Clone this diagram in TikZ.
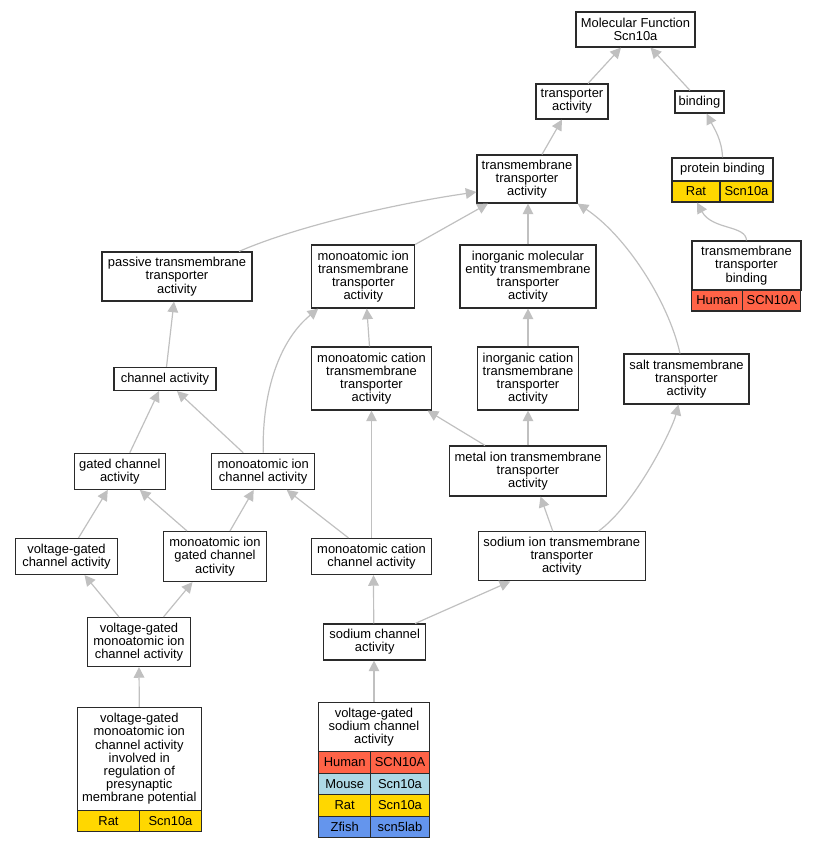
\documentclass[tikz,border=0pt]{standalone}
\usepackage{fontspec}
\setmainfont{Liberation Sans}
\usetikzlibrary{arrows.meta,calc}

\definecolor{human}{HTML}{FF6347}
\definecolor{mouse}{HTML}{ADD8E6}
\definecolor{rat}{HTML}{FFD700}
\definecolor{zfish}{HTML}{6495ED}
\definecolor{linkgray}{HTML}{C0C0C0}
\definecolor{boxline}{HTML}{2A2A2A}

\begin{document}
\begin{tikzpicture}[x=0.75pt,y=-0.75pt,
  term/.style 2 args={draw=boxline,line width=0.85pt,fill=white,align=center,inner sep=0pt,
    minimum width={#1*0.75pt},minimum height={#2*0.75pt},
    font=\fontsize{9.7}{9.9}\selectfont},
  cell/.style 2 args={term={#1}{#2}},
  link/.style={draw=linkgray,line width=0.9pt,-{Triangle[length=8pt,width=8pt]}}]
\useasboundingbox (0,0) rectangle (817,848);
%\draw[help lines,step=50] (0,0) grid (817,848);

\node[term={119}{35}] (mf) at (635.5,29.5) {Molecular Function\\Scn10a};
\node[term={72}{35}] (ta) at (572,101.5) {transporter\\activity};
\node[term={49}{22}] (bind) at (699.5,102) {binding};
\node[term={100}{48}] (tmta) at (527,179) {transmembrane\\transporter\\activity};

\node[term={101}{23}] (pb) at (722.5,169.5) {protein binding};
\node[cell={48}{21}, fill=rat] (pb-sp) at (696,191.5) {Rat};
\node[cell={53}{21}, fill=rat] (pb-g) at (746.5,191.5) {Scn10a};

\node[term={109}{49}] (tmb) at (746.5,265.5) {transmembrane\\transporter\\binding};
\node[cell={51}{21}, fill=human] (tmb-sp) at (717.2,300.5) {Human};
\node[cell={58}{21}, fill=human] (tmb-g) at (771.8,300.5) {SCN10A};

\node[term={150}{49}] (ptta) at (177,276.5) {passive transmembrane\\transporter\\activity};
\node[term={103}{63}] (mitm) at (363.3,276.5) {monoatomic ion\\transmembrane\\transporter\\activity};
\node[term={136}{63}] (imetm) at (528,276.5) {inorganic molecular\\entity transmembrane\\transporter\\activity};

\node[term={102}{23}] (ca) at (165,379) {channel activity};
\node[term={120}{63}] (mctm) at (371.5,378.5) {monoatomic cation\\transmembrane\\transporter\\activity};
\node[term={101}{63}] (ictm) at (528,378.5) {inorganic cation\\transmembrane\\transporter\\activity};
\node[term={125}{50}] (salt) at (686.5,379) {salt transmembrane\\transporter\\activity};

\node[term={91}{36}] (gca) at (119.8,471.3) {gated channel\\activity};
\node[term={103}{36}] (mic) at (263.2,471.3) {monoatomic ion\\channel activity};
\node[term={157}{50}] (metal) at (528,471) {metal ion transmembrane\\transporter\\activity};

\node[term={102}{36}] (vgc) at (66.5,556.5) {voltage-gated\\channel activity};
\node[term={103}{50}] (migc) at (215,556.5) {monoatomic ion\\gated channel\\activity};
\node[term={120}{36}] (mcc) at (371.5,556.5) {monoatomic cation\\channel activity};
\node[term={167}{49}] (sitm) at (561.8,556.3) {sodium ion transmembrane\\transporter\\activity};

\node[term={103}{49}] (vgmic) at (139,642) {voltage-gated\\monoatomic ion\\channel activity};
\node[term={102}{36}] (sc) at (374.7,642) {sodium channel\\activity};

\node[term={124}{103}] (inv) at (139.3,759) {voltage-gated\\monoatomic ion\\channel activity\\involved in\\regulation of\\presynaptic\\membrane potential};
\node[cell={62}{21}, fill=rat] (inv-sp) at (108.5,821.2) {Rat};
\node[cell={62}{21}, fill=rat] (inv-g) at (170.5,821.2) {Scn10a};

\node[term={110.5}{49.5}] (vgsc) at (374,727) {voltage-gated\\sodium channel\\activity};
\node[cell={52}{21.5}, fill=human] (vgsc-h) at (344.7,762.5) {Human};
\node[cell={58.5}{21.5}, fill=human] (vgsc-hg) at (400,762.5) {SCN10A};
\node[cell={52}{21.5}, fill=mouse] (vgsc-m) at (344.7,784) {Mouse};
\node[cell={58.5}{21.5}, fill=mouse] (vgsc-mg) at (400,784) {Scn10a};
\node[cell={52}{21.5}, fill=rat] (vgsc-r) at (344.7,805.5) {Rat};
\node[cell={58.5}{21.5}, fill=rat] (vgsc-rg) at (400,805.5) {Scn10a};
\node[cell={52}{21.5}, fill=zfish] (vgsc-z) at (344.7,827) {Zfish};
\node[cell={58.5}{21.5}, fill=zfish] (vgsc-zg) at (400,827) {scn5lab};

% is_a links, child -> parent
\draw[link] ($(ta.north)+(16,0)$) -- ($(mf.south)+(-14.5,0)$);
\draw[link] ($(bind.north)+(-9.5,0)$) -- ($(mf.south)+(15,0)$);
\draw[link] ($(tmta.north)+(15,0)$) -- ($(ta.south)+(-10,0)$);
\draw[link] (pb.north) .. controls (722,140) and (714,128) .. ($(bind.south)+(7,0)$);
\draw[link] (tmb.north) .. controls (746,225) and (712,230) .. ($(pb-sp.south)+(1,0)$);

\draw[link] ($(ptta.north)+(62,0)$) .. controls (300,225) and (400,203) .. ($(tmta.west)+(0,13)$);
\draw[link] ($(mitm.north)+(52,0)$) -- ($(tmta.south)+(-39,0)$);
\draw[link] (imetm.north) -- (tmta.south -| imetm.north);
\draw[link] ($(salt.north)+(-6.5,0)$) .. controls (668,300) and (625,235) .. (tmta.south east);

\draw[link] ($(ca.north)+(1.5,0)$) -- ($(ptta.south)+(-3,0)$);
\draw[link] (mic.north) .. controls (262,390) and (280,340) .. ($(mitm.south)+(-45,0)$);
\draw[link] ($(mctm.north)+(-2,0)$) -- ($(mitm.south)+(3.5,0)$);
\draw[link] (ictm.north) -- (imetm.south);

\draw[link] ($(gca.north)+(10,0)$) -- ($(ca.south)+(-6,0)$);
\draw[link] ($(mic.north)+(-20,0)$) -- ($(ca.south)+(12,0)$);
\draw[link] ($(metal.north)+(-43,0)$) -- ($(mctm.south)+(56,0)$);
\draw[link] (metal.north) -- (ictm.south);

\draw[link] ($(vgc.north)+(12,0)$) -- ($(gca.south)+(-12,0)$);
\draw[link] ($(migc.north)+(-28,0)$) -- ($(gca.south)+(20,0)$);
\draw[link] ($(migc.north)+(15,0)$) -- ($(mic.south)+(-9.5,0)$);
\draw[link] ($(mcc.north)+(-23,0)$) -- ($(mic.south)+(23.5,0)$);
\draw[link] (mcc.north) -- (mctm.south);
\draw[link] ($(sitm.north)+(-9,0)$) -- ($(metal.south)+(12.5,0)$);
\draw[link] ($(sitm.north)+(36.5,0)$) .. controls (635,505) and (672,430) .. ($(salt.south)+(-8,0)$);

\draw[link] ($(vgmic.north)+(-20,0)$) -- ($(vgc.south)+(18,0)$);
\draw[link] ($(vgmic.north)+(24.5,0)$) -- ($(migc.south)+(-22.5,0)$);
\draw[link] ($(sc.north)+(-1,0)$) -- ($(mcc.south)+(2,0)$);
\draw[link] ($(sc.north)+(40.5,0)$) -- ($(sitm.south)+(-51.5,0)$);

\draw[link] (inv.north) -- (vgmic.south);
\draw[link] (vgsc.north) -- (sc.south -| vgsc.north);
\end{tikzpicture}
\end{document}
